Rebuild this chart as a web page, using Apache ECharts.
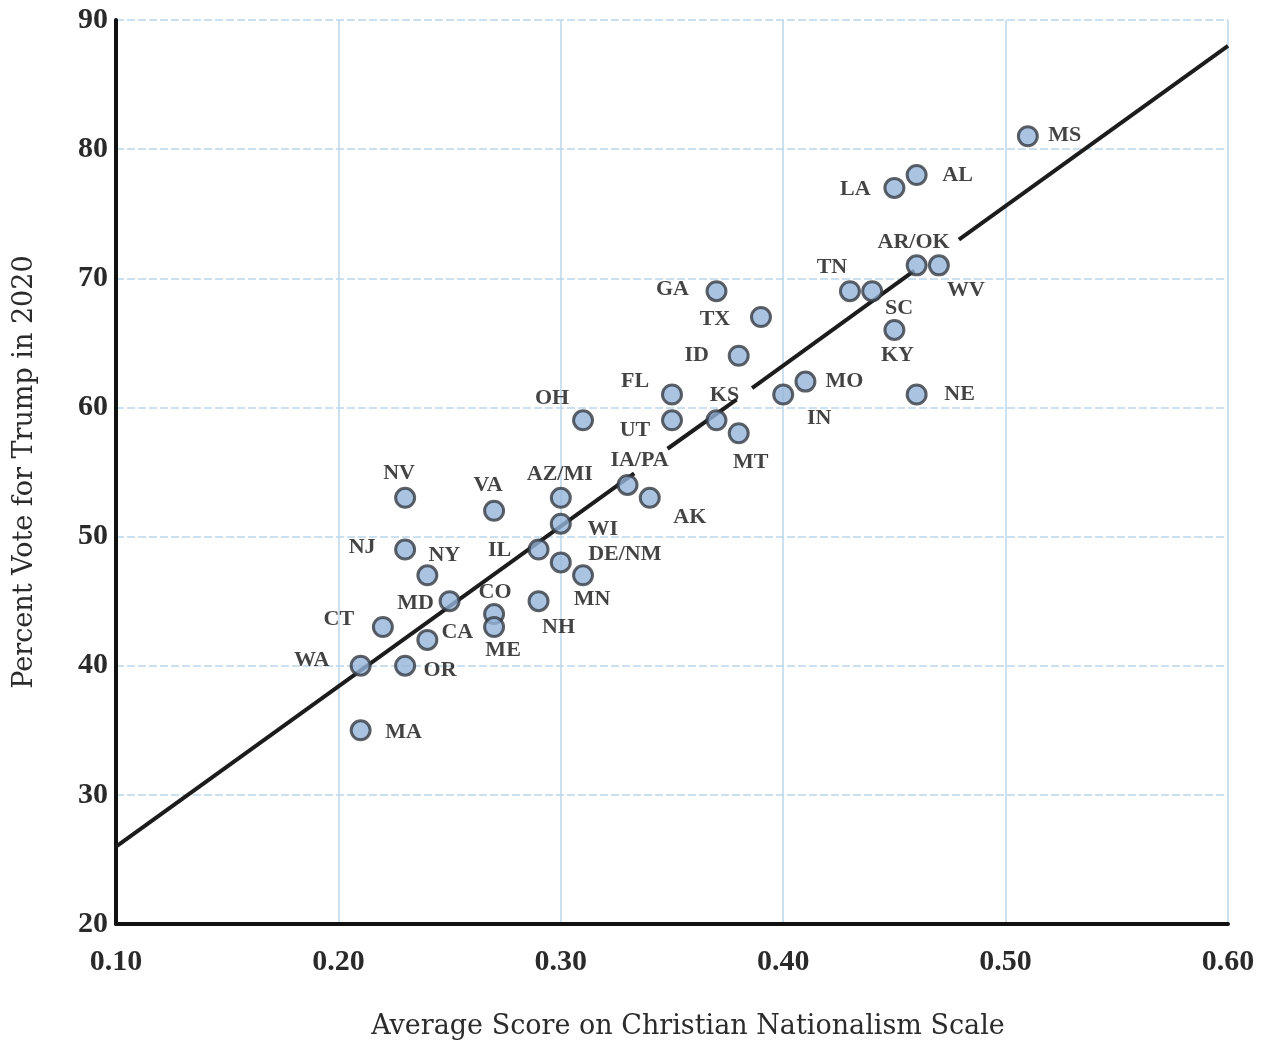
<!DOCTYPE html>
<html>
<head>
<meta charset="utf-8">
<script src="https://cdn.jsdelivr.net/npm/echarts@6/dist/echarts.min.js"></script>
<style>
  html, body { margin: 0; padding: 0; background: #fff; }
  #chart { width: 1261px; height: 1047px; }
</style>
</head>
<body>
<div id="chart"></div>
<script>
// state labels, CN scale score, Trump vote share (%)
var states = ['MS','AL','LA','AR/OK','WV','TN','SC','KY','NE','MO','IN','GA','TX','ID','FL','UT','KS','MT','OH','IA/PA','AK','AZ/MI','WI','IL','DE/NM','MN','NH','CO','ME','VA','NV','NJ','NY','MD','CT','CA','WA','OR','MA'];
var cnScore = [0.51,0.46,0.45,0.46,0.47,0.43,0.44,0.45,0.46,0.41,0.40,0.37,0.39,0.38,0.35,0.35,0.37,0.38,0.31,0.33,0.34,0.30,0.30,0.29,0.30,0.31,0.29,0.27,0.27,0.27,0.23,0.23,0.24,0.25,0.22,0.24,0.21,0.23,0.21];
var trumpVote = [81,78,77,71,71,69,69,66,61,62,61,69,67,64,61,59,59,58,59,54,53,53,51,49,48,47,45,44,43,52,53,49,47,45,43,42,40,40,35];

// fitted line, drawn in pieces (the original breaks it behind some labels)
var fitSegments = [
  [[0.10, 26.0], [0.333, 54.9]],
  [[0.348, 56.8], [0.379, 60.6]],
  [[0.386, 61.5], [0.459, 70.6]],
  [[0.479, 73.0], [0.60, 88.0]]
];

var xTicks = { min: 0.10, max: 0.60, step: 0.10 };
var yTicks = { min: 20, max: 90, step: 10 };

// label placement relative to the dot (px), same order as states
var labelOffsets = [
  [37,-1],[41,0],[-39,1],[-3,-23],[27,25],[-18,-24],[27,17],[3,25],[43,0],[39,0],
  [36,24],[-44,-2],[-46,2],[-42,0],[-37,-13],[-37,10],[8,-25],[12,29],[-31,-22],[12,-25],
  [40,19],[-1,-24],[42,6],[-39,1],[64,-8],[9,24],[20,26],[1,-22],[9,23],[-6,-25],
  [-6,-25],[-43,-2],[17,-20],[-34,2],[-44,-8],[30,-8],[-49,-5],[35,5],[43,2]
];

var serif = '"Liberation Serif", "DejaVu Serif", serif';
var wideSerif = '"DejaVu Serif", serif';

var points = states.map(function (s, i) {
  return {
    name: s,
    value: [cnScore[i], trumpVote[i]],
    label: { offset: labelOffsets[i] }
  };
});

var series = fitSegments.map(function (seg) {
  return {
    type: 'line',
    data: seg,
    symbol: 'none',
    silent: true,
    lineStyle: { color: '#1c1c1c', width: 4 },
    z: 2
  };
});

series.push({
  type: 'scatter',
  data: points,
  symbol: 'circle',
  symbolSize: 19,
  itemStyle: {
    color: '#93b4da',
    borderColor: '#353942',
    borderWidth: 3
  },
  label: {
    show: true,
    position: 'inside',
    formatter: '{b}',
    fontFamily: serif,
    fontSize: 22,
    fontWeight: 'bold',
    color: '#141414'
  },
  z: 3
});

var chart = echarts.init(document.getElementById('chart'));
chart.setOption({
  backgroundColor: '#ffffff',
  animation: false,
  grid: { left: 116, right: 33, top: 20, bottom: 123 },
  xAxis: {
    type: 'value',
    min: xTicks.min,
    max: xTicks.max,
    interval: xTicks.step,
    name: 'Average Score on Christian Nationalism Scale',
    nameLocation: 'middle',
    nameGap: 89,
    nameTextStyle: { fontFamily: wideSerif, fontSize: 27, color: '#2b2b2b', padding: [0, 0, 0, 32] },
    axisLine: { lineStyle: { color: '#111', width: 4 } },
    axisTick: { show: false },
    axisLabel: {
      margin: 23,
      fontFamily: serif, fontSize: 30, fontWeight: 'bold', color: '#2a2a2a',
      formatter: function (v) { return v.toFixed(2); }
    },
    splitLine: { show: true, lineStyle: { color: '#bcd6ea', width: 1.5 } }
  },
  yAxis: {
    type: 'value',
    min: yTicks.min,
    max: yTicks.max,
    interval: yTicks.step,
    name: 'Percent Vote for Trump in 2020',
    nameLocation: 'middle',
    nameGap: 78,
    nameTextStyle: { fontFamily: wideSerif, fontSize: 27, color: '#2b2b2b' },
    axisLine: { show: true, lineStyle: { color: '#111', width: 4 } },
    axisTick: { show: false },
    axisLabel: {
      margin: 8,
      fontFamily: serif, fontSize: 30, fontWeight: 'bold', color: '#2a2a2a'
    },
    splitLine: { show: true, lineStyle: { color: '#bcd6ea', width: 1.5, type: [8, 3] } }
  },
  series: series
});
</script>
</body>
</html>
